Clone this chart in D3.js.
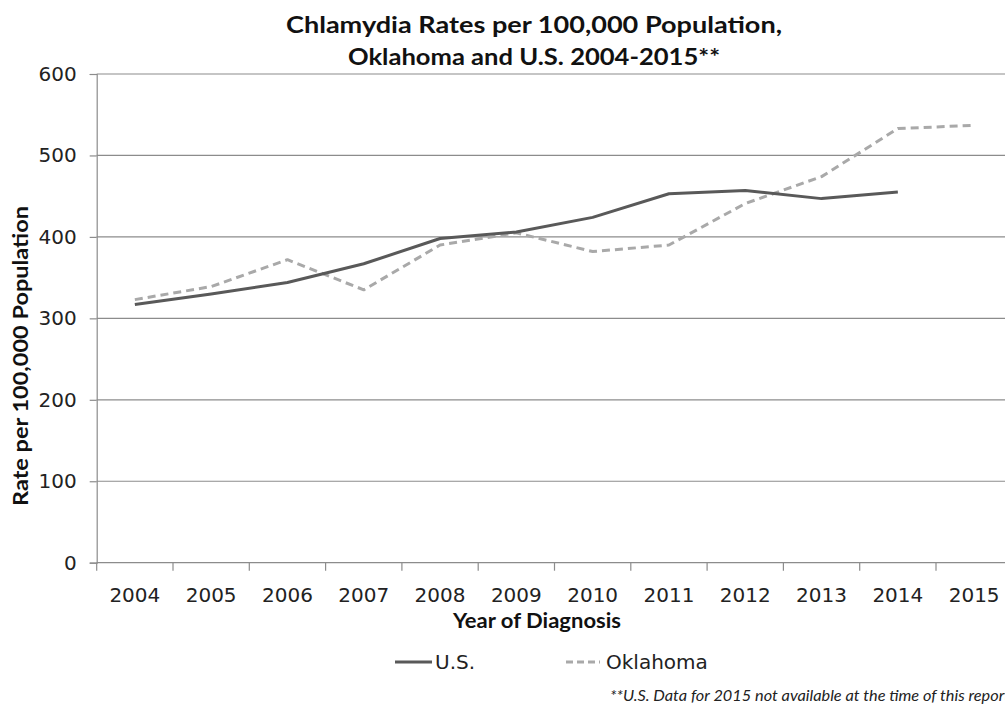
<!DOCTYPE html>
<html>
<head>
<meta charset="utf-8">
<script src="https://cdn.jsdelivr.net/npm/d3@7"></script>
<style>
  html, body { margin: 0; padding: 0; background: #fff; overflow: hidden; }
  svg { display: block; }
</style>
</head>
<body>
<svg id="chart" width="1005" height="704"></svg>
<script>
// Chlamydia rates per 100,000 population
const years = ["2004","2005","2006","2007","2008","2009","2010","2011","2012","2013","2014","2015"];
const usRates = [317, 330, 344, 367, 398, 406, 424, 453, 457, 447, 455, null];
const okRates = [323, 339, 372, 335, 390, 405, 382, 390, 441, 474, 533, 537];
const yTicks = [0, 100, 200, 300, 400, 500, 600];
const seriesNames = ["U.S.", "Oklahoma"];

const svg = d3.select("#chart");
const heading = "Lato, 'Open Sans', sans-serif";
const plain = "'DejaVu Sans', Verdana, sans-serif";

const plotLeft = 96.7, band = 76.3;
const x = d3.scaleBand().domain(years).range([plotLeft, plotLeft + band * years.length]).padding(0);
const y = d3.scaleLinear().domain([0, 600]).range([562.7, 74]);

// horizontal gridlines
svg.append("g").selectAll("line").data(yTicks.filter(d => d > 0)).join("line")
  .attr("x1", plotLeft).attr("x2", 1005)
  .attr("y1", d => y(d)).attr("y2", d => y(d))
  .attr("stroke", "#8c8c8c").attr("stroke-width", 1.2);

// y axis
const yAxis = svg.append("g").attr("transform", `translate(${plotLeft},0)`)
  .call(d3.axisLeft(y).tickValues(yTicks).tickSize(7).tickPadding(13));
yAxis.select(".domain").attr("stroke", "#8c8c8c").attr("stroke-width", 1.2);
yAxis.selectAll(".tick line").attr("stroke", "#8c8c8c").attr("stroke-width", 1.2);
yAxis.selectAll(".tick text").attr("font-family", plain).attr("font-size", 20).attr("fill", "#222");

// x axis with ticks on band edges
const xAxisG = svg.append("g").attr("transform", `translate(0,${y(0)})`);
xAxisG.append("line").attr("x1", plotLeft).attr("x2", 1005).attr("stroke", "#8c8c8c").attr("stroke-width", 1.2);
xAxisG.selectAll("line.tk").data(years).join("line").attr("class", "tk")
  .attr("x1", d => x(d)).attr("x2", d => x(d)).attr("y1", 0).attr("y2", 8)
  .attr("stroke", "#8c8c8c").attr("stroke-width", 1.2);
xAxisG.selectAll("text").data(years).join("text")
  .attr("x", d => x(d) + x.bandwidth() / 2).attr("y", 39)
  .attr("text-anchor", "middle").attr("font-family", plain).attr("font-size", 20).attr("fill", "#222")
  .text(d => d);

// series lines
const line = d3.line()
  .defined(d => d[1] != null)
  .x(d => x(d[0]) + x.bandwidth() / 2)
  .y(d => y(d[1]));

svg.append("path")
  .datum(years.map((yr, i) => [yr, okRates[i]]))
  .attr("d", line).attr("fill", "none")
  .attr("stroke", "#a9a9a9").attr("stroke-width", 3).attr("stroke-dasharray", "8,5")
  .attr("stroke-linejoin", "round");

svg.append("path")
  .datum(years.map((yr, i) => [yr, usRates[i]]))
  .attr("d", line).attr("fill", "none")
  .attr("stroke", "#595959").attr("stroke-width", 3)
  .attr("stroke-linejoin", "round");

// title
const title = svg.append("text").attr("text-anchor", "middle")
  .attr("font-family", heading).attr("font-weight", "bold").attr("font-size", 23).attr("fill", "#111");
title.append("tspan").attr("x", 534).attr("y", 33)
  .attr("textLength", 496).attr("lengthAdjust", "spacingAndGlyphs")
  .text("Chlamydia Rates per 100,000 Population,");
title.append("tspan").attr("x", 534).attr("y", 65)
  .attr("textLength", 372).attr("lengthAdjust", "spacingAndGlyphs")
  .text("Oklahoma and U.S. 2004-2015**");

// axis titles
svg.append("text").attr("transform", "translate(28,356) rotate(-90)")
  .attr("text-anchor", "middle").attr("font-family", heading).attr("font-weight", "bold")
  .attr("font-size", 20).attr("fill", "#111")
  .attr("textLength", 300).attr("lengthAdjust", "spacingAndGlyphs")
  .text("Rate per 100,000 Population");

svg.append("text").attr("x", 537).attr("y", 628)
  .attr("text-anchor", "middle").attr("font-family", heading).attr("font-weight", "bold")
  .attr("font-size", 20).attr("fill", "#111")
  .attr("textLength", 168).attr("lengthAdjust", "spacingAndGlyphs")
  .text("Year of Diagnosis");

// legend
const legend = svg.append("g");
legend.append("line").attr("x1", 395).attr("x2", 432).attr("y1", 662).attr("y2", 662)
  .attr("stroke", "#595959").attr("stroke-width", 3);
legend.append("text").attr("x", 435).attr("y", 669)
  .attr("font-family", plain).attr("font-size", 20).attr("fill", "#222").text(seriesNames[0]);
legend.append("line").attr("x1", 566).attr("x2", 600).attr("y1", 662).attr("y2", 662)
  .attr("stroke", "#a9a9a9").attr("stroke-width", 3).attr("stroke-dasharray", "7,4");
legend.append("text").attr("x", 606).attr("y", 669)
  .attr("font-family", plain).attr("font-size", 20).attr("fill", "#222").text(seriesNames[1]);

// footnote
svg.append("text").attr("x", 610).attr("y", 701)
  .attr("font-family", heading).attr("font-style", "italic").attr("font-size", 15).attr("fill", "#222")
  .attr("textLength", 400).attr("lengthAdjust", "spacingAndGlyphs")
  .text("**U.S. Data for 2015 not available at the time of this report");
</script>
</body>
</html>
